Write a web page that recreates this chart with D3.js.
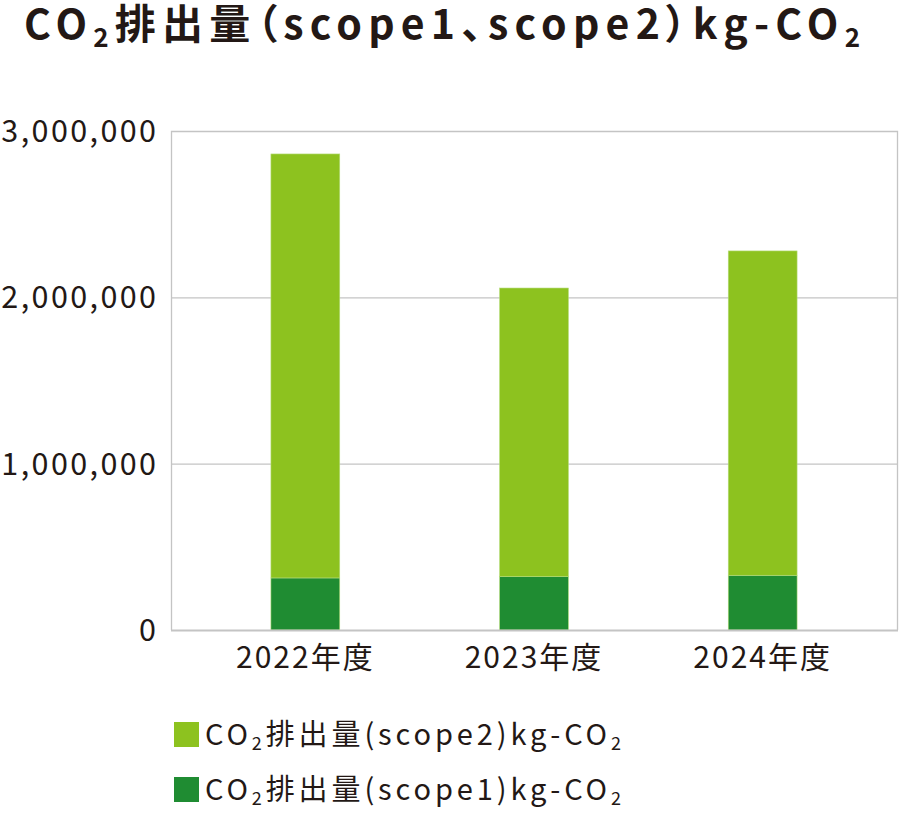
<!DOCTYPE html>
<html><head><meta charset="utf-8">
<script src="https://cdn.jsdelivr.net/npm/d3@7"></script>
<style>
body{margin:0;background:#fff;}
text{font-family:"Noto Sans CJK JP","Noto Sans",sans-serif;fill:#231815;}
</style></head>
<body><svg id="c" width="900" height="813"></svg>
<script>
const categories = ["2022年度","2023年度","2024年度"];
const scope1 = [313000, 321000, 329000];
const scope2 = [2549000, 1735000, 1950000];
const yTicks = [0, 1000000, 2000000, 3000000];
const seriesNames = ["CO₂排出量(scope2)kg-CO₂","CO₂排出量(scope1)kg-CO₂"];
const colors = {scope1:"#1f8c32", scope2:"#8dc21f"};

const svg = d3.select("#c");
const L=171, R=897, T=131, B=630;
const x = d3.scaleBand().domain(categories).range([L,R]).paddingInner(0.699).paddingOuter(0.437);
const y = d3.scaleLinear().domain([0,3000000]).range([B,T]);

// title
const title = svg.append("text").attr("x",24).attr("y",39)
  .style("font-size","41px").style("font-weight","700")
  .style("font-feature-settings","'palt' 1")
  .attr("textLength",836).attr("lengthAdjust","spacing");
title.append("tspan").text("CO");
title.append("tspan").text("2").style("font-size","26px").attr("dy",8);
title.append("tspan").text("排出量（scope1、scope2）kg-CO").attr("dy",-8);
title.append("tspan").text("2").style("font-size","26px").attr("dy",8);

// grid
svg.append("g").selectAll("line").data(yTicks.filter(d=>d>0 && d<3000000)).join("line")
  .attr("x1",L).attr("x2",R).attr("y1",d=>y(d)+0.5).attr("y2",d=>y(d)+0.5)
  .attr("stroke","#c4c4c4").attr("stroke-width",1.3);
// frame
svg.append("path").attr("d",`M${L+0.5},${B}V${T+0.5}H${R+0.5}V${B}`)
  .attr("fill","none").attr("stroke","#c4c4c4").attr("stroke-width",1.3);

// stacked bars
const data = categories.map((c,i)=>({cat:c, scope1:scope1[i], scope2:scope2[i]}));
const stack = d3.stack().keys(["scope1","scope2"])(data);
svg.append("g").selectAll("g").data(stack).join("g")
  .attr("fill",d=>colors[d.key])
  .selectAll("rect").data(d=>d).join("rect")
  .attr("x",d=>x(d.data.cat)).attr("width",x.bandwidth())
  .attr("y",d=>y(d[1])).attr("height",d=>y(d[0])-y(d[1]))
  .attr("stroke","#b5dd7a").attr("stroke-width",0.6);

// bottom axis line
svg.append("line").attr("x1",L).attr("x2",R+1).attr("y1",B+0.5).attr("y2",B+0.5)
  .attr("stroke","#c4c4c4").attr("stroke-width",2.2);

// y axis labels
const ya = svg.append("g").attr("transform",`translate(${L-15},0)`)
  .call(d3.axisLeft(y).tickValues(yTicks).tickFormat(d3.format(",")).tickSize(0).tickPadding(0));
ya.select(".domain").remove();
ya.selectAll("text").style("font-size","30.5px").style("letter-spacing","2.4px")
  .attr("fill","#231815").attr("font-family",null).attr("dy","0.34em").attr("dx","2.4");

// x axis labels
const xa = svg.append("g").attr("transform",`translate(0,${B})`)
  .call(d3.axisBottom(x).tickSize(0).tickPadding(17));
xa.select(".domain").remove();
xa.selectAll("text").style("font-size","30px").style("letter-spacing","2px")
  .attr("fill","#231815").attr("font-family",null).attr("dy","0.71em");

// legend
const leg = svg.append("g");
const legItems = [{name:seriesNames[0], key:"scope2"},{name:seriesNames[1], key:"scope1"}];
legItems.forEach((it,i)=>{
  const g = leg.append("g").attr("transform",`translate(174,${722+i*55})`);
  g.append("rect").attr("width",25).attr("height",25).attr("fill",colors[it.key]);
  const t = g.append("text").attr("x",31).attr("y",23).style("font-size","29px")
    .attr("textLength",416).attr("lengthAdjust","spacing");
  const parts = it.name.split("₂");
  t.append("tspan").text(parts[0]);
  t.append("tspan").text("2").style("font-size","18px").attr("dy",5);
  t.append("tspan").text(parts[1]).attr("dy",-5);
  t.append("tspan").text("2").style("font-size","18px").attr("dy",5);
});
</script></body></html>
